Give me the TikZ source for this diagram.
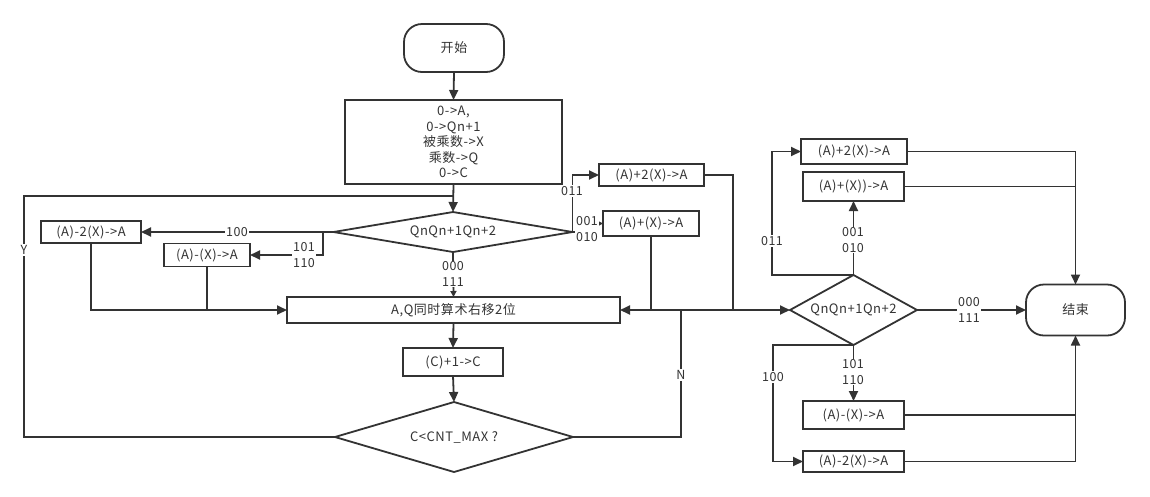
\documentclass[tikz,border=0pt]{standalone}
\usepackage{fontspec}
\setmainfont[LetterSpace=4]{Noto Sans CJK SC}
\usetikzlibrary{shapes.geometric,arrows.meta}
\definecolor{ink}{HTML}{333333}
\begin{document}
\begin{tikzpicture}[x=1pt,y=-1pt,
  every node/.style={font=\fontsize{13}{15.5}\selectfont, text=ink},
  box/.style={draw=ink, line width=1.8pt, rectangle, inner sep=0pt, outer sep=0pt, align=center},
  term/.style={box, rounded corners=18pt},
  dia/.style={draw=ink, line width=1.8pt, diamond, inner sep=0pt, outer sep=0pt},
  ln/.style={draw=ink, line width=1.8pt},
  arr/.style={ln, -{Triangle[length=10pt,width=9pt]}},
  sarr/.style={ln, -{Triangle[length=6pt,width=6pt]}},
  lab/.style={fill=white, inner sep=1pt, align=center, font=\fontsize{12.5}{15.5}\selectfont}
]
\useasboundingbox (0,0) rectangle (1150,496);

% left part
\node[term, minimum width=100pt, minimum height=48pt] (start) at (454,48) {开始};
\node[box, minimum width=217pt, minimum height=84pt] (init) at (453.5,142) {0->A,\\0->Qn+1\\被乘数->X\\乘数->Q\\0->C};
\node[dia, minimum width=239pt, minimum height=40pt] (d1) at (453,232) {};
\node (d1t) at (d1) {QnQn+1Qn+2};
\node[box, minimum width=100pt, minimum height=22pt] (m2) at (91,232) {(A)-2(X)->A};
\node[box, minimum width=86pt, minimum height=23pt] (m1) at (207,255) {(A)-(X)->A};
\node[box, minimum width=105pt, minimum height=22pt] (p2) at (651.5,175) {(A)+2(X)->A};
\node[box, minimum width=96pt, minimum height=25pt] (p1) at (651,223.5) {(A)+(X)->A};
\node[box, minimum width=333pt, minimum height=26pt] (shift) at (453.5,310) {A,Q同时算术右移2位};
\node[box, minimum width=100pt, minimum height=28pt] (inc) at (453,362) {(C)+1->C};
\node[dia, minimum width=238pt, minimum height=70pt] (cnt) at (454,437) {};
\node (cntt) at (cnt) {C<CNT\_MAX ?};

% right part
\node[dia, minimum width=127pt, minimum height=70pt] (d2) at (853.5,310) {};
\node (d2t) at (d2) {QnQn+1Qn+2};
\node[box, minimum width=106pt, minimum height=25pt] (q2) at (854,151.5) {(A)+2(X)->A};
\node[box, minimum width=101pt, minimum height=29pt] (q1) at (853.5,186.5) {(A)+(X))->A};
\node[box, minimum width=101pt, minimum height=28pt] (r1) at (853.5,415) {(A)-(X)->A};
\node[box, minimum width=101pt, minimum height=21pt] (r2) at (853.5,461.5) {(A)-2(X)->A};
\node[term, minimum width=99pt, minimum height=51pt] (e) at (1075.5,310) {结束};

\coordinate (yl) at (24,196);
\coordinate (yj) at (454,196);
\coordinate (b1) at (323,232);
\coordinate (j1) at (733,310);
\coordinate (nj) at (681,310);
\coordinate (k1) at (772,275);
\coordinate (k2) at (773,345);

% left connectors
\draw[arr] (start.south) -- (init.north);
\draw[arr] (init.south) -- (d1.north);
\draw[ln] (cnt.west) -| (yl) -- (yj);
\node[lab] (ly) at (24,250) {Y};
\draw[arr] (d1.west) -- (m2.east);
\node[lab] (l100) at (237,232) {100};
\draw[arr] (b1) |- (m1.east);
\node[lab] (l101) at (304,255) {101\\110};
\draw[arr] (m2.south) |- (shift.west);
\draw[ln] (m1.south) -- (m1.south |- shift.west);
\draw[sarr] (d1.south) -- (shift.north);
\node[lab] (l000) at (453,274) {000\\111};
\draw[arr] (d1.east) |- (p2.west);
\node[lab] (l011) at (572,191) {011};
\draw[sarr] (d1.east) -- ++(12,0) |- (p1.west);
\node[lab] (l001) at (587,229) {001\\010};
\draw[arr] (p2.east) -| (j1) -- (shift.east);
\draw[ln] (p1.south) -- (p1.south |- shift.east);
\draw[arr] (shift.south) -- (inc.north);
\draw[arr] (inc.south) -- (cnt.north);
\draw[arr] (cnt.east) -| (nj) -- (d2.west);
\node[lab] (ln) at (681,375) {N};

% right connectors
\draw[arr] (d2.north) -- (q1.south);
\node[lab] (r001) at (853,240) {001\\010};
\draw[arr] (d2.north) -- (k1) |- (q2.west);
\node[lab] (r011) at (772,241) {011};
\draw[arr] (q2.east) -| (e.north);
\draw[ln] (q1.east) -- (q1.east -| e.north);
\draw[arr] (d2.east) -- (e.west);
\node[lab] (r000) at (969,310) {000\\111};
\draw[arr] (d2.south) -- (r1.north);
\node[lab] (r101) at (853,372) {101\\110};
\draw[arr] (d2.south) -- (k2) |- (r2.west);
\node[lab] (r100) at (773,377) {100};
\draw[arr] (r2.east) -| (e.south);
\draw[ln] (r1.east) -- (r1.east -| e.south);
\end{tikzpicture}
\end{document}
